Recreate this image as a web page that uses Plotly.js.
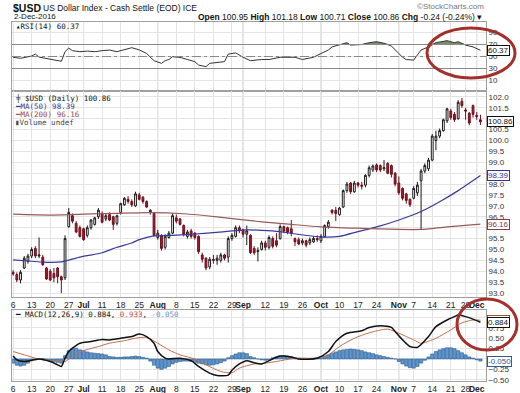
<!DOCTYPE html>
<html><head><meta charset="utf-8">
<script src="https://cdn.plot.ly/plotly-3.0.1.min.js"></script>
<style>html,body{margin:0;padding:0;background:#fff;}#chart{width:520px;height:393px;}</style>
</head><body><div id="chart"></div>
<script>
// ---- data (trading-day index 0 = 6-Jun-2016 ... 126 = 2-Dec-2016) ----
const priceOpen = [93.95,93.85,93.60,94.15,94.45,94.70,95.05,94.70,94.65,94.15,94.00,93.90,94.15,93.75,93.70,96.05,96.55,96.20,96.00,95.95,
95.65,96.00,96.15,96.50,96.65,96.40,96.60,96.50,96.20,96.70,97.05,97.30,97.20,97.00,97.50,97.40,97.20,96.70,96.65,95.55,
95.65,95.10,95.55,95.75,96.45,96.40,96.10,95.60,95.85,95.75,95.60,94.75,94.60,94.20,94.55,94.50,94.50,94.75,94.65,95.50,
95.60,96.00,95.90,95.70,95.65,95.05,94.90,95.00,95.30,95.10,95.50,95.40,95.50,96.05,96.00,95.95,95.50,95.45,95.30,95.40,
95.30,95.35,95.50,95.40,95.60,96.05,96.80,96.80,96.60,96.95,97.70,98.05,97.65,98.05,97.95,97.95,98.40,98.65,98.88,98.85,
98.70,98.95,98.85,98.50,98.05,97.80,97.55,97.30,97.35,97.60,98.15,98.60,98.70,99.10,100.00,100.20,100.45,100.90,101.35,101.20,
101.00,101.80,101.40,101.25,101.60,101.15,100.95];
const priceHigh = [94.05,93.95,94.05,94.70,94.80,95.10,95.15,95.55,94.75,94.20,94.10,94.15,94.20,93.80,95.65,96.90,96.65,96.30,96.10,96.00,
96.10,96.40,96.50,96.90,96.75,96.65,96.70,96.55,96.60,97.15,97.40,97.45,97.30,97.65,97.60,97.45,97.25,96.85,96.70,95.90,
95.70,95.70,95.85,96.65,96.60,96.45,96.15,95.90,95.95,95.80,95.65,94.85,94.65,94.65,94.75,94.75,94.85,94.80,95.60,95.75,
96.10,96.10,95.95,96.10,95.70,95.15,95.10,95.40,95.40,95.65,95.60,95.75,96.15,96.10,96.05,96.35,95.55,95.55,95.50,95.45,
95.55,95.60,95.65,95.70,96.15,96.35,96.85,96.95,96.95,97.75,98.10,98.10,98.15,98.10,98.10,98.45,98.85,98.90,98.95,98.90,
99.10,99.00,98.90,98.55,98.35,97.85,97.60,97.35,97.90,98.10,98.70,98.95,99.20,100.30,100.45,100.55,101.00,101.50,101.45,101.30,
101.85,101.95,101.50,101.30,101.65,101.30,101.18];
const priceLow = [93.80,93.50,93.45,94.10,94.35,94.60,94.60,94.60,94.25,93.60,93.55,93.50,93.45,93.00,93.60,96.00,96.20,95.75,95.55,95.40,
95.55,95.90,96.10,96.40,96.20,96.30,96.30,95.90,96.10,96.60,97.00,97.10,96.95,96.95,97.25,97.10,96.90,96.60,95.60,95.45,
94.95,95.00,95.50,95.70,96.20,96.10,95.60,95.50,95.50,95.45,94.80,94.40,94.05,94.10,94.35,94.30,94.40,94.50,94.40,95.40,
95.55,95.75,95.55,95.20,94.80,94.75,94.45,94.95,94.95,95.00,95.05,95.10,95.45,95.75,95.70,95.60,95.15,95.20,95.20,95.10,
95.20,95.30,95.35,95.30,95.55,95.95,96.60,96.30,96.55,96.90,97.60,97.55,97.60,97.85,97.75,97.85,98.30,98.55,98.55,98.55,
98.60,98.45,98.30,97.90,97.50,97.25,97.10,96.95,97.30,97.45,95.90,98.50,98.60,99.05,99.55,100.10,100.40,100.80,100.95,100.85,
100.95,101.50,100.95,100.70,101.05,100.95,100.71];
const priceClose = [93.88,93.60,93.95,94.60,94.70,95.00,94.70,94.75,94.30,93.65,93.60,93.70,93.75,93.60,95.50,96.70,96.30,95.80,95.60,95.45,
96.00,96.35,96.45,96.80,96.25,96.55,96.35,96.15,96.55,97.10,97.35,97.20,97.05,97.55,97.30,97.20,96.95,96.80,95.65,95.75,
95.05,95.60,95.75,96.55,96.30,96.15,95.70,95.80,95.60,95.55,94.90,94.55,94.15,94.55,94.50,94.60,94.75,94.60,95.50,95.65,
96.00,95.85,95.70,95.85,94.85,94.85,94.95,95.30,95.10,95.55,95.15,95.20,96.05,95.85,95.80,95.75,95.35,95.25,95.40,95.20,
95.45,95.50,95.45,95.60,96.10,96.25,96.70,96.65,96.90,97.70,98.00,97.65,98.05,97.95,97.90,98.40,98.75,98.83,98.65,98.65,
98.75,98.50,98.45,98.00,97.60,97.35,97.25,97.05,97.80,97.95,98.60,98.85,99.10,100.20,100.20,100.45,100.95,101.45,101.05,100.95,
101.75,101.60,101.35,100.80,101.20,101.10,100.86];

const ma50Idx = [0,5,8,13,18,24,28,32,34,38,44,49,54,59,63,67,72,77,83,88,93,99,104,110,115,120,126];
const ma50Val = [94.52,94.46,94.42,94.43,94.65,94.85,95.10,95.30,95.45,95.62,95.66,95.71,95.77,95.85,95.90,95.88,95.82,95.69,95.57,95.60,95.82,96.08,96.35,96.74,97.19,97.70,98.39];
const ma200Idx = [0,10,19,28,37,46,55,61,67,75,83,94,104,110,117,126];
const ma200Val = [96.62,96.58,96.62,96.66,96.69,96.64,96.50,96.38,96.27,96.15,96.04,95.97,95.92,95.92,96.04,96.16];

const rsiIdx = [0,2,5,6,7,10,11,13,14,15,16,18,20,22,24,26,28,30,32,34,36,38,39,40,41,42,43,45,47,49,50,52,53,55,57,58,60,62,64,67,69,72,76,78,81,83,85,86,88,90,91,94,96,98,100,102,104,105,106,108,109,110,112,114,117,119,120,122,124,126];
const rsiVal = [48.7,47,50.8,54,49,45,44,42,58,64,59.7,58,59,58,59.7,60.8,58,61,64.7,61,55,43,40.8,38.6,43,45,49.7,48.5,45,41.4,35.8,33,38.6,40,41.4,54,56,48.7,43,45,45,48.7,48.7,45,48.7,55,60.8,66,69,73,69,70,73,74.7,72,67.5,55,48.7,45,44,52.5,60.8,66,73,76.4,73,74.7,69,66,60.37];

const macdIdx = [0,1,3,5,7,8,10,12,13,14,15,16,18,21,24,26,29,32,34,36,38,39,41,42,45,48,50,53,55,58,59,61,63,65,67,69,72,75,77,82,85,87,90,94,96,99,102,103,105,107,109,110,112,114,117,119,120,122,124,126];
const macdVal = [0.07,-0.02,-0.06,-0.03,0.0,-0.01,-0.06,-0.14,-0.18,0.02,0.18,0.26,0.38,0.42,0.47,0.46,0.5,0.54,0.6,0.54,0.38,0.18,0.02,0.0,0.02,-0.04,-0.18,-0.34,-0.4,-0.39,-0.27,-0.12,-0.04,-0.09,-0.12,-0.04,0.07,0.05,0.0,0.02,0.18,0.42,0.62,0.68,0.76,0.8,0.76,0.66,0.46,0.3,0.28,0.35,0.54,0.78,0.94,1.02,1.06,1.02,0.96,0.884];
const sigIdx = [0,3,6,8,12,14,16,19,23,26,30,33,36,39,42,45,49,52,56,59,61,65,67,71,76,81,85,88,92,96,101,104,108,110,114,118,121,124,126];
const sigVal = [0.18,0.1,0.02,-0.02,-0.06,-0.06,0.06,0.2,0.3,0.38,0.44,0.5,0.52,0.38,0.22,0.1,0.0,-0.14,-0.3,-0.33,-0.22,-0.12,-0.11,-0.06,0.02,0.02,0.1,0.3,0.5,0.63,0.72,0.62,0.46,0.38,0.5,0.7,0.87,0.94,0.933];
const histVal = [-0.10,-0.15,-0.17,-0.15,-0.10,
-0.04,-0.02,0.00,0.01,-0.02,-0.04,-0.06,-0.08,-0.10,
0.08,0.20,0.25,0.26,0.22,
0.20,0.17,0.15,0.14,0.13,0.12,0.10,
0.06,0.05,0.04,0.04,0.05,0.05,0.06,0.07,0.06,0.04,0.02,
-0.05,-0.15,-0.22,-0.25,
-0.22,-0.18,-0.12,-0.08,-0.06,-0.05,
-0.05,-0.06,-0.08,-0.10,-0.12,-0.14,
-0.15,-0.14,-0.12,-0.09,-0.05,
0.03,0.08,0.12,0.15,0.15,0.13,
0.06,0.03,0.00,-0.02,-0.03,-0.02,
0.03,0.05,0.07,0.08,0.07,0.05,0.03,0.01,
0.00,-0.01,-0.01,0.00,0.01,0.03,
0.06,0.10,0.14,0.17,0.20,0.22,0.23,0.24,0.23,0.22,0.20,0.17,0.15,0.13,0.10,0.08,
0.06,0.04,0.02,0.00,
-0.06,-0.12,-0.17,-0.21,-0.22,-0.18,-0.10,-0.03,
0.05,0.12,0.18,0.22,0.25,0.27,0.27,0.25,0.20,0.15,0.10,0.05,0.02,
-0.02,-0.05];

const tickIdx = [0,5,10,15,19,24,29,34,39,44,49,54,59,62,68,73,78,83,88,93,98,104,108,113,118,122,125];
const tickText = ['6','13','20','27','<b>Jul</b>','11','18','25','<b>Aug</b>','8','15','22','29','<b>Sep</b>','12','19','26','<b>Oct</b>','10','17','24','<b>Nov</b>','7','14','21','28','<b>Dec</b>'];
const monthIdx = [19,39,62,83,104,125];

// ---- layout helpers (pixel frame of the plotting area) ----
const L = 12, R = 486, T = 22, B = 381, W = R - L, H = B - T;
const pxX = x => (x - L) / W, pxY = y => (B - y) / H;
const dayIdx = priceOpen.map((_, i) => i);
const SANS = 'Liberation Sans, Arial, sans-serif';
const MONO = 'DejaVu Sans Mono, monospace';

const traces = [
  // RSI
  {x: rsiIdx, y: rsiIdx.map(() => 70), xaxis:'x', yaxis:'y', mode:'lines', line:{width:0, color:'rgba(0,0,0,0)'}, hoverinfo:'skip'},
  {x: rsiIdx, y: rsiVal.map(v => Math.max(v, 70)), xaxis:'x', yaxis:'y', mode:'lines', fill:'tonexty', fillcolor:'rgba(95,125,80,0.85)', line:{width:0, color:'rgba(0,0,0,0)'}, hoverinfo:'skip'},
  {x: rsiIdx, y: rsiVal, xaxis:'x', yaxis:'y', mode:'lines', line:{color:'#333', width:1}, hoverinfo:'skip'},
  // Price
  {type:'candlestick', x: dayIdx, open: priceOpen, high: priceHigh, low: priceLow, close: priceClose, xaxis:'x2', yaxis:'y2',
   increasing:{line:{color:'#1a1a1a', width:1}, fillcolor:'#ffffff'},
   decreasing:{line:{color:'#6e0f1c', width:1}, fillcolor:'#a51d33'}, whiskerwidth:0, hoverinfo:'skip'},
  {x: ma50Idx, y: ma50Val, xaxis:'x2', yaxis:'y2', mode:'lines', line:{color:'#3a3a9a', width:1.2, shape:'spline', smoothing:0.6}, hoverinfo:'skip'},
  {x: ma200Idx, y: ma200Val, xaxis:'x2', yaxis:'y2', mode:'lines', line:{color:'#9a5a5a', width:1.2, shape:'spline', smoothing:0.6}, hoverinfo:'skip'},
  // MACD
  {type:'bar', x: dayIdx, y: histVal, xaxis:'x3', yaxis:'y3', marker:{color:'#5f96cc', line:{color:'#2c5d8f', width:0.6}}, hoverinfo:'skip'},
  {x: sigIdx, y: sigVal, xaxis:'x3', yaxis:'y3', mode:'lines', line:{color:'#c0704f', width:1, shape:'spline', smoothing:0.7}, hoverinfo:'skip'},
  {x: macdIdx, y: macdVal, xaxis:'x3', yaxis:'y3', mode:'lines', line:{color:'#111', width:1.5, shape:'spline', smoothing:0.7}, hoverinfo:'skip'}
];

const xCommon = {range:[-0.3, 127.5], tickmode:'array', tickvals: tickIdx, ticktext: tickText, tickangle:0, showgrid:true, gridcolor:'#e4e4e4', gridwidth:1,
  zeroline:false, showline:true, mirror:true, linecolor:'#a0a0a0', linewidth:1, ticks:'', ticklen:0, fixedrange:true,
  tickfont:{family:SANS, size:8.5, color:'#222'}, rangeslider:{visible:false}};
const yCommon = {side:'right', showgrid:true, gridcolor:'#e4e4e4', zeroline:false, showline:true, mirror:true, linecolor:'#a0a0a0', ticks:'', fixedrange:true,
  tickfont:{family:SANS, size:8, color:'#333'}};

const shapes = [];
// month separators (slightly darker)
['y','y2','y3'].forEach((ya, k) => {
  const xa = ['x','x2','x3'][k];
  monthIdx.forEach(m => shapes.push({type:'line', xref:xa, yref: ya + ' domain', x0:m, x1:m, y0:0, y1:1, line:{color:'#c4c4c4', width:1}, layer:'below'}));
});
// RSI reference lines
shapes.push({type:'line', xref:'x domain', yref:'y', x0:0, x1:1, y0:70, y1:70, line:{color:'#8a8a8a', width:1}});
shapes.push({type:'line', xref:'x domain', yref:'y', x0:0, x1:1, y0:30, y1:30, line:{color:'#8a8a8a', width:1}});
shapes.push({type:'line', xref:'x domain', yref:'y', x0:0, x1:1, y0:50, y1:50, line:{color:'#8a8a8a', width:1, dash:'dashdot'}});
// hand-drawn red ellipses
shapes.push({type:'circle', xref:'paper', yref:'paper', x0:pxX(427), x1:pxX(515), y0:pxY(78), y1:pxY(28), line:{color:'#a3302a', width:3}});
shapes.push({type:'circle', xref:'paper', yref:'paper', x0:pxX(457), x1:pxX(517), y0:pxY(350), y1:pxY(299), line:{color:'#a3302a', width:3}});

function txt(text, x, y, size, opts) {
  return Object.assign({xref:'paper', yref:'paper', x:pxX(x), y:pxY(y), text, showarrow:false, xanchor:'left', yanchor:'middle',
    font:{family:SANS, size:size, color:'#111'}}, opts || {});
}
function box(text, ya, yv, color) {
  return {xref:'paper', yref:ya, x:pxX(487), y:yv, text, showarrow:false, xanchor:'left', yanchor:'middle',
    bgcolor:'#fff', bordercolor:color, borderwidth:1, borderpad:0, font:{family:SANS, size:8, color:color}};
}

const annotations = [
  txt('<b>$USD</b>', 11, 8, 10.5),
  txt('US Dollar Index - Cash Settle (EOD) ICE', 41, 8.5, 8.5),
  txt('2-Dec-2016', 12, 17, 8),
  txt('<b>Open</b> 100.95 <b>High</b> 101.18 <b>Low</b> 100.71 <b>Close</b> 100.86 <b>Chg</b> -0.24 (-0.24%) ▾', 484, 17, 8.5, {xanchor:'right'}),
  txt('©StockCharts.com', 486, 6, 8, {xanchor:'right', font:{family:SANS, size:8, color:'#777'}}),
  txt('▴RSI(14) 60.37', 14, 26, 7.5, {font:{family:MONO, size:7.5, color:'#111'}}),
  txt('╪ $USD (Daily) 100.86', 13, 98, 7.5, {font:{family:MONO, size:7.5, color:'#111'}}),
  txt('<span style="color:#3a3a9a">━</span>MA(50) 98.39', 13, 106, 7.5, {font:{family:MONO, size:7.5, color:'#3a3a9a'}}),
  txt('<span style="color:#9a5a5a">━</span>MA(200) 96.16', 13, 114, 7.5, {font:{family:MONO, size:7.5, color:'#9a4a4a'}}),
  txt('▮Volume undef', 13, 122, 7.5, {font:{family:MONO, size:7.5, color:'#444'}}),
  txt('━ MACD(12,26,9) 0.884, <span style="color:#c0504d">0.933</span>, <span style="color:#5f96cc">-0.050</span>', 13, 314, 7.5, {font:{family:MONO, size:7.5, color:'#111'}}),
  box('60.37', 'y', 60.37, '#111'),
  box('100.86', 'y2', 100.86, '#111'),
  box('98.39', 'y2', 98.39, '#333399'),
  box('96.16', 'y2', 96.16, '#8b3a3a'),
  box('0.933', 'y3', 0.933, '#a0522d'),
  box('0.884', 'y3', 0.884, '#111'),
  box('-0.050', 'y3', -0.050, '#2c5d8f')
];

const layout = {
  width:520, height:393, margin:{l:L, r:520-R, t:T, b:393-B, pad:0},
  paper_bgcolor:'#fff', plot_bgcolor:'#fff', showlegend:false, bargap:0.12,
  font:{family:SANS, size:8, color:'#222'},
  xaxis: Object.assign({}, xCommon, {anchor:'y', showticklabels:false}),
  yaxis: Object.assign({}, yCommon, {domain:[pxY(91), 1], range:[-7.5, 107.5], tickvals:[10,30,50,70,90]}),
  xaxis2: Object.assign({}, xCommon, {anchor:'y2', matches:'x'}),
  yaxis2: Object.assign({}, yCommon, {domain:[pxY(297), pxY(91)], range:[92.82, 102.27], tick0:93, dtick:0.5, tickformat:'.1f'}),
  xaxis3: Object.assign({}, xCommon, {anchor:'y3', matches:'x'}),
  yaxis3: Object.assign({}, yCommon, {domain:[0, pxY(310)], range:[-0.53, 1.18], tickvals:[-0.5,-0.25,0,0.25,0.5,0.75,1.0], tickformat:'.2f'}),
  shapes, annotations
};

Plotly.newPlot('chart', traces, layout, {staticPlot:true, displayModeBar:false});
</script></body></html>
